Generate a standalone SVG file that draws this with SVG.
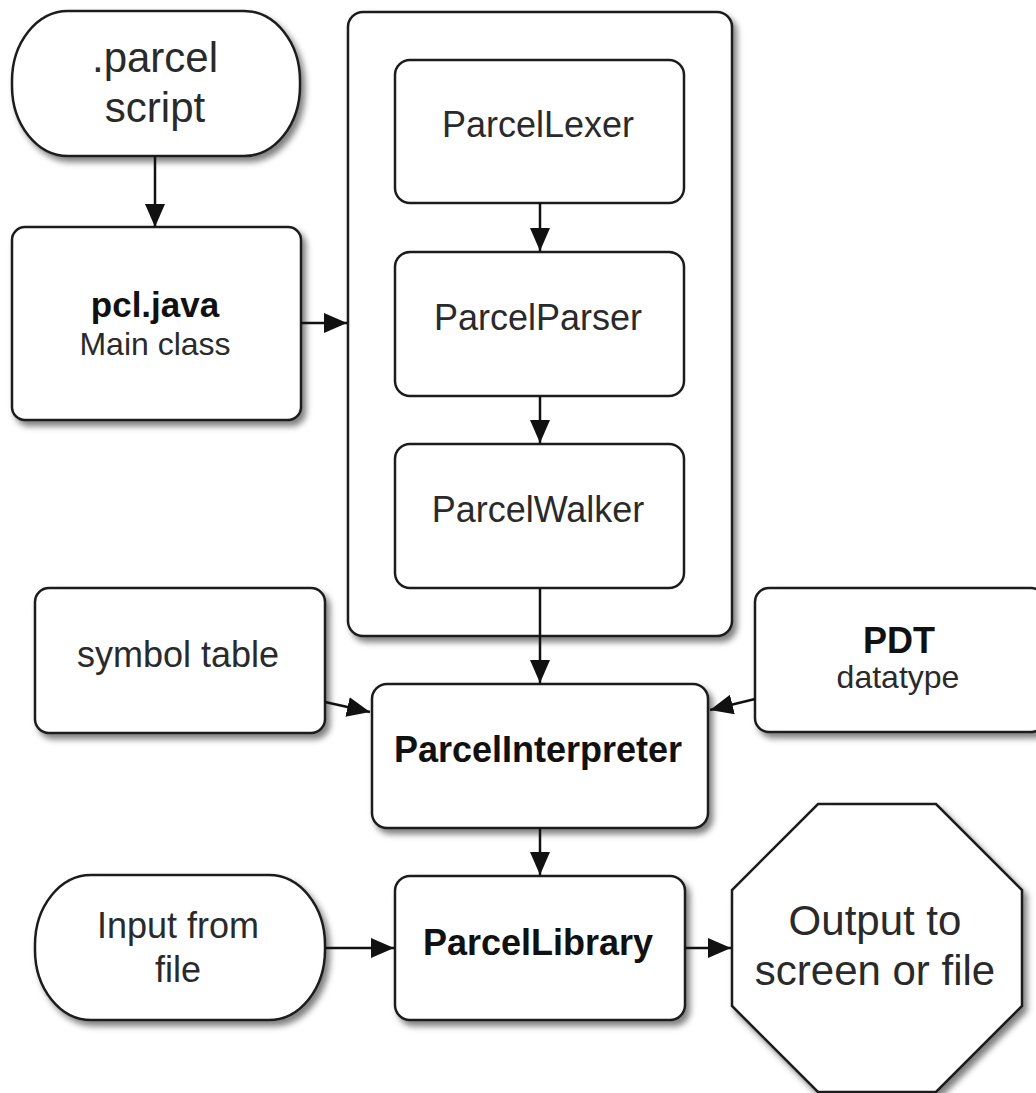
<svg xmlns="http://www.w3.org/2000/svg" width="1036" height="1093" viewBox="0 0 1036 1093">
<style>
.n{fill:#fff;stroke:#1c1c1c;stroke-width:2.5}
.sh{filter:url(#ds)}
.t{font-family:"Liberation Sans",Arial,sans-serif;font-size:36px;fill:#2a2a2a;text-anchor:middle}
.b{font-weight:bold;fill:#111}
.big{font-size:42px}
.sub{font-size:32px}
.c{stroke:#111;stroke-width:2.5;fill:none;marker-end:url(#ah)}
</style>
<defs>
<filter id="ds" x="-10%" y="-10%" width="130%" height="130%">
<feGaussianBlur in="SourceAlpha" stdDeviation="3"/>
<feOffset dx="4" dy="5" result="o"/>
<feComponentTransfer><feFuncA type="linear" slope="0.5"/></feComponentTransfer>
<feMerge><feMergeNode/><feMergeNode in="SourceGraphic"/></feMerge>
</filter>
<marker id="ah" markerUnits="userSpaceOnUse" markerWidth="26" markerHeight="22" refX="23" refY="10" orient="auto">
<path d="M0,0 L23,10 L0,20 z" fill="#111"/>
</marker>
</defs>
<rect width="1036" height="1093" fill="#fff"/>

<g id="parcel-script">
<rect class="n sh" x="12" y="11" width="288" height="145" rx="56" ry="70"/>
<text class="t big" x="155" y="72">.parcel</text>
<text class="t big" x="155" y="122">script</text>
</g>

<g id="pcl-java">
<rect class="n sh" x="12" y="227" width="289" height="193" rx="13"/>
<text class="t b" x="155" y="317" style="font-size:35px">pcl.java</text>
<text class="t sub" x="155" y="355">Main class</text>
</g>

<g id="pipeline">
<rect class="n sh" x="348" y="12" width="384" height="624" rx="15"/>
</g>

<g id="parcel-lexer">
<rect class="n" x="395" y="60" width="289" height="143" rx="15"/>
<text class="t" x="538" y="137">ParcelLexer</text>
</g>

<g id="parcel-parser">
<rect class="n" x="395" y="252" width="289" height="144" rx="15"/>
<text class="t" x="538" y="330">ParcelParser</text>
</g>

<g id="parcel-walker">
<rect class="n" x="395" y="444" width="289" height="144" rx="15"/>
<text class="t" x="538" y="522">ParcelWalker</text>
</g>

<g id="symbol-table">
<rect class="n sh" x="35" y="588" width="290" height="145" rx="14"/>
<text class="t" x="178" y="667">symbol table</text>
</g>

<g id="pdt">
<rect class="n sh" x="755" y="588" width="290" height="144" rx="14"/>
<text class="t b" x="899" y="653">PDT</text>
<text class="t sub" x="898" y="688">datatype</text>
</g>

<g id="parcel-interpreter">
<rect class="n sh" x="372" y="684" width="336" height="144" rx="15"/>
<text class="t b" x="538" y="762">ParcelInterpreter</text>
</g>

<g id="input-from-file">
<rect class="n sh" x="35" y="875" width="290" height="145" rx="56" ry="70"/>
<text class="t" x="178" y="938">Input from</text>
<text class="t" x="178" y="982">file</text>
</g>

<g id="parcel-library">
<rect class="n sh" x="395" y="876" width="290" height="144" rx="15"/>
<text class="t b" x="538" y="955">ParcelLibrary</text>
</g>

<g id="output">
<polygon class="n sh" points="818,804 936,804 1022,890 1022,1006 936,1092 818,1092 732,1006 732,890"/>
<text class="t big" x="875" y="935">Output to</text>
<text class="t big" x="875" y="985">screen or file</text>
</g>

<g id="connectors">
<line class="c" x1="155" y1="156" x2="155" y2="227"/>
<line class="c" x1="301" y1="323" x2="347" y2="323"/>
<line class="c" x1="540" y1="203" x2="540" y2="251"/>
<line class="c" x1="540" y1="396" x2="540" y2="443"/>
<line class="c" x1="540" y1="588" x2="540" y2="683"/>
<line class="c" x1="325" y1="702" x2="370" y2="712"/>
<line class="c" x1="755" y1="699" x2="710" y2="710"/>
<line class="c" x1="540" y1="828" x2="540" y2="875"/>
<line class="c" x1="325" y1="948" x2="394" y2="948"/>
<line class="c" x1="685" y1="948" x2="731" y2="948"/>
</g>
</svg>
